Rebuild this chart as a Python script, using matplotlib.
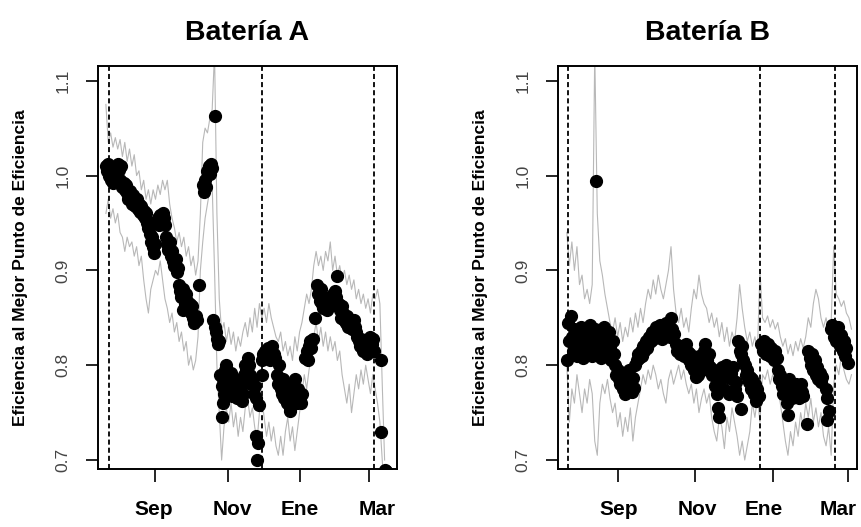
import numpy as np
import matplotlib
matplotlib.use("Agg")
from matplotlib import pyplot as plt
from matplotlib.transforms import ScaledTranslation

plt.rcParams['font.family'] = ['Liberation Sans Narrow', 'Liberation Sans', 'DejaVu Sans']

# days counted from 1 Jul (Sep 1 = 62, Nov 1 = 123, Ene 1 = 184, Mar 1 = 243)
tick_days = [62, 123, 184, 243]
tick_names = ['Sep', 'Nov', 'Ene', 'Mar']

# ---- Bateria A ----
dots_a_day = [20, 21, 22, 23, 24, 25, 26, 27, 28, 29, 30, 31, 32, 33, 34,
              35, 36, 37, 38, 39, 40, 41, 42, 43, 44, 45, 46, 47, 48, 49, 50, 51, 52, 53, 54,
              55, 56, 57, 58, 59, 60, 61, 62,
              63, 64, 65, 66, 67, 68, 69, 70,
              71, 72, 73, 74, 75, 76, 77, 78, 79, 80, 81,
              82, 83, 84, 85, 86, 87, 88, 89, 90, 91, 92, 93, 94, 95, 96, 97, 85, 99,
              102, 103, 104, 105, 106, 107, 108, 109, 110, 112,
              111, 112, 113, 114, 115, 116,
              117, 118, 119, 120, 121, 122, 123, 124, 125, 126, 127, 128, 129, 130, 131, 132,
              133, 134, 135, 136, 137, 138, 139, 140, 119, 118,
              141, 142, 143, 144, 145, 146, 147, 150, 147, 148, 149,
              152, 153, 154, 155, 156, 157, 158, 159, 160, 161, 162, 163, 152, 167,
              165, 166, 168, 169, 170, 171, 172, 173, 174, 175, 176, 177, 178, 179, 180, 181,
              182, 183, 184, 185, 186, 176,
              189, 190, 191, 192, 193, 194, 195,
              197, 199, 200, 201, 202, 203, 204, 205, 206, 207, 208, 209, 210, 211, 212, 213,
              214, 215, 216,
              217, 218, 219, 220, 221, 222, 223, 224, 225, 226, 227, 228, 229, 230, 231, 232,
              233, 234, 235, 236, 237, 238, 239, 240, 241, 242, 243, 244, 245, 246, 247,
              253, 253, 256, 257]
dots_a_val = [1.010, 1.005, 1.012, 1.000, 0.995, 1.003, 0.992, 1.008, 1.000, 0.997, 1.012, 1.006, 0.995, 1.010, 0.988,
              0.992, 0.985, 0.990, 0.982, 0.975, 0.984, 0.978, 0.970, 0.980, 0.972, 0.968, 0.975, 0.965, 0.970, 0.962,
              0.968, 0.958, 0.963, 0.955, 0.960,
              0.950, 0.945, 0.938, 0.930, 0.935, 0.925, 0.918, 0.928,
              0.950, 0.955, 0.948, 0.958, 0.952, 0.960, 0.955, 0.948,
              0.935, 0.928, 0.922, 0.930, 0.915, 0.920, 0.910, 0.905, 0.912, 0.898, 0.902,
              0.885, 0.878, 0.872, 0.880, 0.870, 0.865, 0.875, 0.868, 0.860, 0.865, 0.855, 0.862, 0.850, 0.845,
              0.852, 0.848, 0.858, 0.885,
              0.990, 0.983, 0.995, 0.988, 1.005, 1.010, 1.002, 1.012, 1.008, 1.063,
              0.848, 0.840, 0.835, 0.828, 0.822, 0.825,
              0.790, 0.778, 0.785, 0.770, 0.795, 0.800, 0.788, 0.775, 0.780, 0.792, 0.768, 0.775, 0.785, 0.772,
              0.765, 0.780,
              0.770, 0.778, 0.762, 0.770, 0.790, 0.800, 0.795, 0.808, 0.760, 0.745,
              0.800, 0.790, 0.780, 0.785, 0.770, 0.778, 0.765, 0.758, 0.725, 0.700, 0.718,
              0.805, 0.812, 0.808, 0.815, 0.810, 0.818, 0.812, 0.805, 0.815, 0.820, 0.812, 0.808, 0.790, 0.800,
              0.790, 0.780, 0.775, 0.770, 0.785, 0.765, 0.772, 0.760, 0.778, 0.770, 0.755, 0.768, 0.780, 0.775,
              0.785, 0.770, 0.760, 0.775, 0.765, 0.760, 0.770, 0.752,
              0.808, 0.815, 0.805, 0.820, 0.825, 0.818, 0.828,
              0.850, 0.885, 0.875, 0.868, 0.880, 0.865, 0.860, 0.872, 0.868, 0.858, 0.865, 0.870, 0.862, 0.868,
              0.875, 0.870, 0.878, 0.872, 0.894,
              0.865, 0.858, 0.850, 0.862, 0.855, 0.848, 0.845, 0.852, 0.840, 0.848, 0.842, 0.838, 0.845, 0.848,
              0.840, 0.835,
              0.830, 0.825, 0.820, 0.828, 0.822, 0.815, 0.825, 0.818, 0.812, 0.820, 0.825, 0.830, 0.822, 0.828,
              0.815,
              0.805, 0.730, 0.690, 0.688]

band_a_day = list(range(20, 258, 2))
band_a_upper = [1.075, 1.035, 1.045, 1.030, 1.040, 1.028, 1.038, 1.020, 1.035, 1.015,
                1.028, 1.010, 1.022, 1.000, 1.005, 0.985, 0.995, 0.975, 0.985, 0.970,
                0.985, 0.975, 0.990, 0.980, 0.995, 0.985, 0.995, 0.970, 0.955, 0.945,
                0.930, 0.940, 0.925, 0.935, 0.915, 0.925, 0.905, 0.915, 0.895, 0.910,
                0.960, 1.035, 1.050, 1.045, 1.060, 1.070, 1.130, 0.960, 0.870, 0.835,
                0.845, 0.825, 0.840, 0.822, 0.835, 0.815, 0.830, 0.820, 0.835, 0.845,
                0.830, 0.850, 0.835, 0.860, 0.840, 0.865, 0.850, 0.860, 0.845, 0.865,
                0.850, 0.840, 0.830, 0.825, 0.835, 0.815, 0.825, 0.810, 0.820, 0.805,
                0.830, 0.815, 0.835, 0.845, 0.860, 0.875, 0.865, 0.880, 0.905, 0.920,
                0.905, 0.915, 0.900, 0.920, 0.910, 0.930, 0.900, 0.915, 0.895, 0.905,
                0.890, 0.900, 0.885, 0.895, 0.880, 0.890, 0.870, 0.880, 0.865, 0.875,
                0.860, 0.870, 0.855, 0.875, 0.870, 0.880, 0.865, 0.780, 0.700]
band_a_lower = [0.960, 0.975, 0.955, 0.965, 0.950, 0.960, 0.940, 0.935, 0.920, 0.935,
                0.925, 0.930, 0.915, 0.925, 0.905, 0.915, 0.890, 0.870, 0.855, 0.880,
                0.890, 0.900, 0.895, 0.910, 0.890, 0.870, 0.860, 0.845, 0.855, 0.835,
                0.845, 0.825, 0.835, 0.815, 0.825, 0.800, 0.810, 0.795, 0.805, 0.830,
                0.900, 0.930, 0.955, 0.970, 0.985, 0.990, 0.900, 0.800, 0.750, 0.700,
                0.735, 0.755, 0.740, 0.760, 0.735, 0.750, 0.725, 0.745, 0.730, 0.755,
                0.765, 0.745, 0.755, 0.735, 0.720, 0.750, 0.765, 0.745, 0.725, 0.740,
                0.720, 0.735, 0.715, 0.705, 0.725, 0.705, 0.730, 0.745, 0.720, 0.735,
                0.710, 0.730, 0.750, 0.770, 0.790, 0.775, 0.795, 0.810, 0.830, 0.845,
                0.825, 0.840, 0.820, 0.835, 0.815, 0.830, 0.815, 0.825, 0.805, 0.815,
                0.790, 0.775, 0.760, 0.780, 0.750, 0.770, 0.790, 0.775, 0.795, 0.780,
                0.800, 0.785, 0.770, 0.790, 0.775, 0.760, 0.740, 0.700, 0.660]
vlines_a = [22.9, 152, 247.4]

# ---- Bateria B ----
dots_b_day = [22, 23, 24, 25, 26, 27, 28, 29, 30, 31, 32, 33, 34, 35, 36, 37, 38, 39, 40, 41,
              42, 43, 44, 45, 46, 47, 48, 49, 50, 51, 52, 53, 54, 55, 56, 57, 58, 59,
              60, 61, 62, 63, 64, 65, 66, 67, 68, 69, 70, 71, 72, 73, 74, 75,
              76, 77, 78, 79, 80, 81, 82, 83, 84, 85, 86, 87, 88, 89, 90, 91, 92, 93, 94, 95,
              96, 97, 98, 99, 100, 101, 102, 103, 104, 105, 106,
              108, 109, 110, 111, 112, 113, 114, 115, 116, 117, 118, 119, 120, 121, 122, 123,
              124, 125, 126, 127, 128, 129, 130, 124,
              131, 132, 133, 134, 135, 136,
              138, 139, 140, 141, 142, 143, 144, 145, 146, 147, 148, 149, 150, 151, 152, 153,
              154, 155, 156,
              157, 158, 159, 160, 161, 159,
              162, 163, 164, 165, 166, 167, 168, 169, 170, 171, 172, 173,
              175, 176, 177, 178, 179, 180, 181, 182, 183, 184, 185, 186, 187,
              188, 189, 190, 191, 192, 193, 194, 195, 196, 197, 198, 199, 200, 201, 202, 203,
              204, 205, 206, 207, 208, 211,
              212, 213, 214, 215, 216, 217, 218, 219, 220, 221, 222, 223,
              226, 227, 228, 227,
              230, 231, 232, 233, 234, 235, 236, 237, 238, 239, 240, 241, 242, 243]
dots_b_val = [0.805, 0.845, 0.825, 0.852, 0.830, 0.815, 0.838, 0.822, 0.810, 0.832, 0.826, 0.840,
              0.818, 0.808, 0.825, 0.835, 0.812, 0.828, 0.842, 0.820,
              0.810, 0.830, 0.838, 0.994, 0.822, 0.832, 0.815, 0.808, 0.826, 0.840, 0.820, 0.812,
              0.830, 0.835, 0.818, 0.806, 0.825, 0.812,
              0.800, 0.790, 0.795, 0.785, 0.780, 0.792, 0.775, 0.785, 0.770, 0.788, 0.778, 0.795,
              0.782, 0.772, 0.786, 0.776,
              0.800, 0.805, 0.812, 0.808, 0.815, 0.810, 0.820, 0.815, 0.825, 0.818, 0.822, 0.830,
              0.826, 0.835, 0.828, 0.832, 0.840, 0.836, 0.830, 0.842,
              0.835, 0.828, 0.838, 0.832, 0.845, 0.836, 0.840, 0.830, 0.850, 0.838, 0.833,
              0.822, 0.815, 0.818, 0.812, 0.820, 0.816, 0.810, 0.818, 0.822, 0.814, 0.805, 0.812,
              0.800, 0.808, 0.795, 0.805,
              0.798, 0.790, 0.810, 0.802, 0.795, 0.808, 0.815, 0.788,
              0.822, 0.805, 0.800, 0.812, 0.798, 0.790,
              0.795, 0.778, 0.770, 0.755, 0.745, 0.785, 0.798, 0.790, 0.775, 0.800, 0.795, 0.788,
              0.770, 0.792, 0.785, 0.798,
              0.775, 0.782, 0.768,
              0.825, 0.815, 0.812, 0.820, 0.805, 0.754,
              0.800, 0.790, 0.795, 0.782, 0.788, 0.775, 0.785, 0.770, 0.780, 0.762, 0.775, 0.768,
              0.822, 0.815, 0.825, 0.818, 0.812, 0.822, 0.816, 0.810, 0.818, 0.812, 0.806, 0.815,
              0.808,
              0.795, 0.785, 0.790, 0.778, 0.770, 0.782, 0.775, 0.760, 0.748, 0.785, 0.772, 0.765,
              0.778, 0.770, 0.780, 0.768,
              0.775, 0.765, 0.780, 0.772, 0.768, 0.738,
              0.815, 0.808, 0.800, 0.812, 0.795, 0.805, 0.790, 0.798, 0.785, 0.792, 0.782, 0.788,
              0.775, 0.765, 0.752, 0.742,
              0.838, 0.842, 0.830, 0.835, 0.825, 0.840, 0.828, 0.820, 0.832, 0.815, 0.825, 0.810,
              0.818, 0.802]

band_b_day = list(range(22, 248, 2))
band_b_upper = [0.940, 0.905, 0.930, 0.900, 0.925, 0.885, 0.895, 0.870, 0.880, 0.865,
                0.885, 1.130, 0.960, 0.910, 0.895, 0.875, 0.860, 0.845, 0.835, 0.850,
                0.830, 0.845, 0.825, 0.840, 0.830, 0.850, 0.835, 0.855, 0.840, 0.860,
                0.845, 0.865, 0.880, 0.870, 0.890, 0.875, 0.895, 0.880, 0.870, 0.885,
                0.900, 0.925, 0.880, 0.855, 0.845, 0.860, 0.840, 0.850, 0.835, 0.860,
                0.880, 0.870, 0.895, 0.875, 0.865, 0.860, 0.845, 0.855, 0.840, 0.850,
                0.830, 0.845, 0.825, 0.840, 0.820, 0.835, 0.825, 0.850, 0.885, 0.860,
                0.840, 0.825, 0.835, 0.820, 0.830, 0.815, 0.900, 0.850, 0.845, 0.852,
                0.840, 0.848, 0.838, 0.845, 0.830, 0.820, 0.828, 0.812, 0.822, 0.810,
                0.825, 0.815, 0.828, 0.818, 0.830, 0.850, 0.840, 0.865, 0.880, 0.870,
                0.850, 0.840, 0.850, 0.835, 0.845, 0.925, 0.875, 0.870, 0.862, 0.868,
                0.855, 0.850, 0.838]
band_b_lower = [0.800, 0.740, 0.775, 0.760, 0.790, 0.770, 0.750, 0.775, 0.760, 0.785,
                0.770, 0.720, 0.705, 0.760, 0.780, 0.770, 0.785, 0.765, 0.750, 0.760,
                0.735, 0.750, 0.725, 0.745, 0.730, 0.755, 0.720, 0.745, 0.760, 0.775,
                0.790, 0.780, 0.795, 0.785, 0.800, 0.790, 0.775, 0.785, 0.770, 0.760,
                0.785, 0.795, 0.780, 0.790, 0.800, 0.785, 0.795, 0.780, 0.770, 0.780,
                0.760, 0.775, 0.750, 0.765, 0.775, 0.760, 0.770, 0.745, 0.730, 0.720,
                0.745, 0.735, 0.712, 0.745, 0.730, 0.755, 0.740, 0.725, 0.705, 0.720,
                0.700, 0.715, 0.730, 0.760, 0.745, 0.765, 0.740, 0.790, 0.785, 0.795,
                0.780, 0.790, 0.782, 0.775, 0.760, 0.740, 0.720, 0.705, 0.730, 0.715,
                0.740, 0.725, 0.750, 0.735, 0.760, 0.745, 0.765, 0.740, 0.755, 0.735,
                0.750, 0.725, 0.715, 0.735, 0.705, 0.780, 0.800, 0.790, 0.810, 0.795,
                0.785, 0.780, 0.790]
vlines_b = [22.6, 174, 232.9]

# small horizontal nudges (px) of the month names, as placed in the original
nudge_a = [-1.7, 4.8, 0.0, 7.7]
nudge_b = [1.3, 2.5, -8.7, -9.5]

panels = [
    ('Batería A', dots_a_day, dots_a_val, band_a_day, band_a_upper, band_a_lower, vlines_a, (13.3, 266.5), nudge_a),
    ('Batería B', dots_b_day, dots_b_val, band_b_day, band_b_upper, band_b_lower, vlines_b, (15.3, 250.3), nudge_b),
]

fig = plt.figure(figsize=(8.61, 5.27), dpi=100)
boxes = [[0.1138, 0.110, 0.3473, 0.7647], [0.6484, 0.110, 0.3469, 0.7647]]

for (title, dd, dv, bd, bu, bl, vl, xl, nudge), box in zip(panels, boxes):
    ax = fig.add_axes(box)
    ax.plot(bd, bu, color='#b8b8b8', lw=0.8, zorder=1)
    ax.plot(bd, bl, color='#b8b8b8', lw=0.8, zorder=1)
    for v in vl:
        ax.axvline(v, color='black', lw=1.3, linestyle=(0, (2.8, 1.7)), zorder=2)
    ax.plot(dd, dv, 'o', color='black', ms=8.5, mec='black', zorder=3)

    ax.set_xlim(xl)
    ax.set_ylim(0.6905, 1.1155)
    ax.set_xticks(tick_days)
    ax.set_xticklabels(tick_names, fontsize=15, fontweight='bold')
    ax.set_yticks([0.7, 0.8, 0.9, 1.0, 1.1])
    ax.set_yticklabels(['0.7', '0.8', '0.9', '1.0', '1.1'], rotation=90, va='center',
                       fontsize=12.5, color='#444444')
    ax.tick_params(axis='x', length=9, width=1.2, pad=13)
    ax.tick_params(axis='y', length=9, width=1.2, pad=11)
    # nudge after tick_params, which resets the label transforms
    for lab, dx in zip(ax.get_xticklabels(), nudge):
        lab.set_transform(lab.get_transform() + ScaledTranslation(dx / 100, 0, fig.dpi_scale_trans))
    for s in ax.spines.values():
        s.set_linewidth(1.4)
    ax.set_ylabel('Eficiencia al Mejor Punto de Eficiencia', fontsize=12.5, fontweight='bold')
    ax.yaxis.set_label_coords(-0.234, 0.5)
    ax.set_title(title, fontsize=20.5, fontweight='bold', pad=19)

plt.savefig('out.png', dpi=100)
